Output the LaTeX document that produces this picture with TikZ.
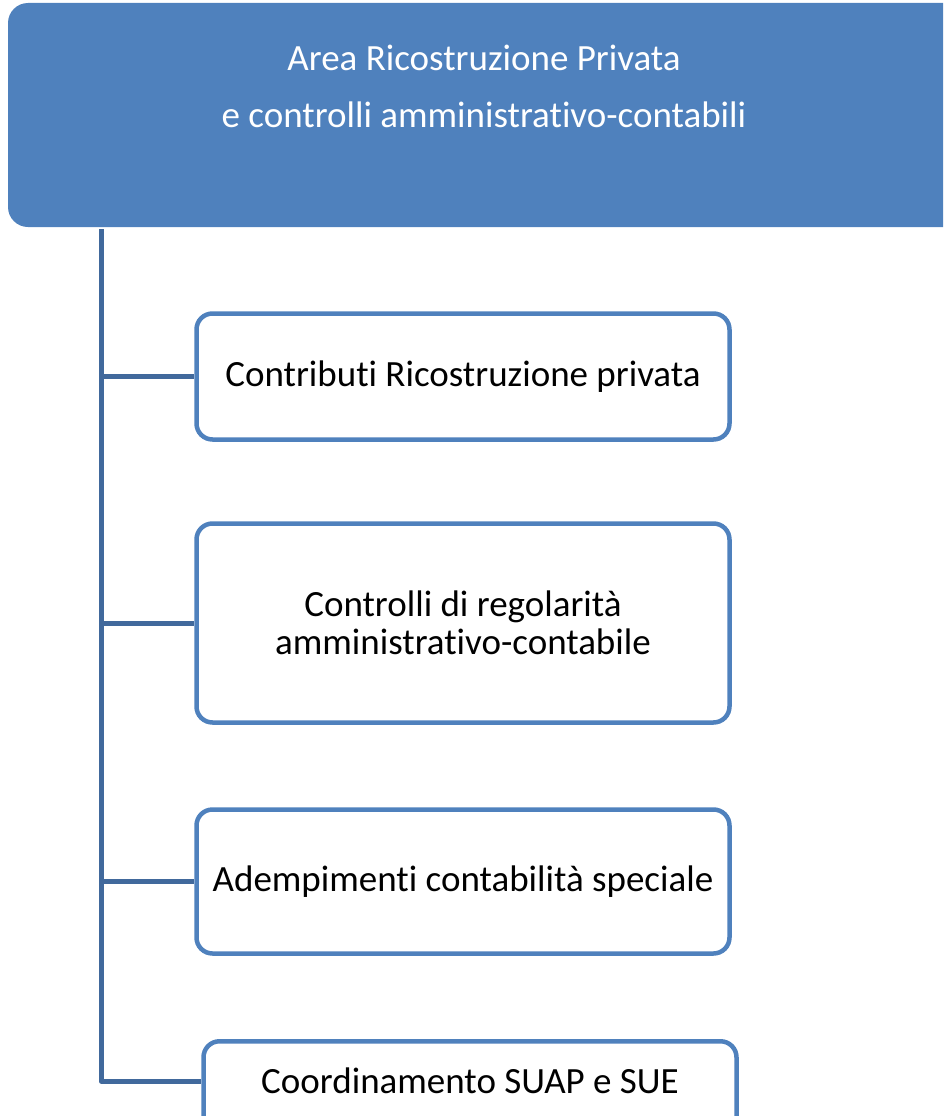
\documentclass[tikz,border=0pt]{standalone}
\usepackage{fontspec}
\setmainfont[Ligatures={NoCommon}]{Carlito}
\definecolor{accent}{HTML}{4F81BD}
\definecolor{linkc}{HTML}{41699C}
\begin{document}
\begin{tikzpicture}[x=1pt,y=-1pt,
  leaf/.style={draw=accent,line width=4.5pt,rounded corners=16pt,fill=white,
    minimum width=533pt,align=center,font=\fontsize{37}{38}\selectfont,inner sep=0pt},
  link/.style={draw=linkc,line width=5pt}]
\useasboundingbox (0,0) rectangle (943,1116);
\begin{scope}
\clip (0,0) rectangle (943,1116);
\fill[accent,rounded corners=20pt] (8,3) rectangle (990,227);
\node[text=white,font=\fontsize{37}{57}\selectfont,align=center] (top) at (484,86)
  {Area Ricostruzione Privata\\e controlli amministrativo-contabili};
\coordinate (s) at (101,229);
\node[leaf,minimum height=126pt] (b1) at (463,376.5) {Contributi Ricostruzione privata};
\node[leaf,minimum height=199pt] (b2) at (463,623) {Controlli di regolarità\\amministrativo-contabile};
\node[leaf,minimum height=144pt] (b3) at (463,881.5) {Adempimenti contabilità speciale};
\node[leaf,minimum height=130pt,anchor=north] (b4) at (470,1039) {};
\node[font=\fontsize{37}{38}\selectfont] (t4) at (470,1081) {Coordinamento SUAP e SUE};
\coordinate (c4) at (b4.west|-t4);
\draw[link,line join=round] (s) |- (c4);
\draw[link] (s|-b1.west) -- (b1.west);
\draw[link] (s|-b2.west) -- (b2.west);
\draw[link] (s|-b3.west) -- (b3.west);
\end{scope}
\end{tikzpicture}
\end{document}
